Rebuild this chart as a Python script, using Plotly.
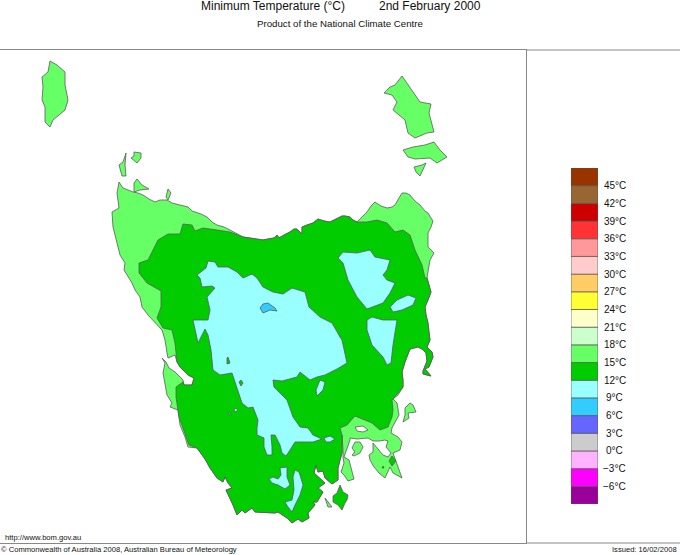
"""Minimum temperature map of Tasmania, 2nd February 2000."""

import plotly.graph_objects as go

WIDTH = 680
HEIGHT = 555

# temperature bands for the colour key
band_low = [-9, -6, -3, 0, 3, 6, 9, 12, 15, 18, 21, 24, 27, 30, 33, 36, 39, 42, 45]
band_colours = [
    "#990099", "#ff00ff", "#ffb3ff", "#cccccc", "#6666ff", "#33ccff", "#99ffff",
    "#00cc00", "#66ff66", "#ccffcc", "#ffffcc", "#ffff33", "#ffcc66", "#ffcccc",
    "#ff9999", "#ff3333", "#cc0000", "#996633", "#993300",
]
key_values = [45, 42, 39, 36, 33, 30, 27, 24, 21, 18, 15, 12, 9, 6, 3, 0, -3, -6]

COLOUR_15 = "#66ff66"
COLOUR_12 = "#00cc00"
COLOUR_9 = "#99ffff"
COLOUR_6 = "#33ccff"

# coast in image grid units, clockwise
coast_nw = [
    (162, 330), (155, 322), (148, 315), (142, 307), (140, 297), (135, 290), (132, 283),
    (124, 270), (125, 263), (120, 255), (118, 247), (115, 237), (113, 227), (112, 212),
    (119, 208), (117, 193), (119, 182), (123, 188), (128, 190), (133, 192), (138, 193),
    (143, 195), (149, 199), (155, 202), (160, 200), (167, 200), (172, 203), (180, 205),
    (188, 207), (192, 211), (195, 212), (201, 214), (207, 217), (212, 222), (217, 225),
    (224, 227), (230, 230), (236, 233), (243, 237),
]
coast_north = [
    (250, 238), (257, 239), (263, 240), (268, 239), (274, 238), (277, 235), (279, 238),
    (284, 235), (290, 232), (294, 229), (297, 229), (302, 234), (302, 227), (307, 225),
    (313, 223), (318, 219), (324, 221), (330, 222), (335, 220), (338, 218), (342, 216),
    (345, 216), (350, 217), (353, 220), (357, 222),
]
coast_ne = [
    (362, 217), (367, 212), (371, 206), (375, 202), (381, 206), (387, 208), (392, 207),
    (395, 205), (399, 198), (402, 193), (406, 193), (410, 195), (415, 201), (420, 205),
    (425, 211), (428, 213), (431, 218), (433, 221), (431, 227), (428, 233), (428, 240),
    (428, 247), (431, 250), (434, 253), (430, 260), (428, 270), (427, 278),
]
coast_east = [
    (429, 285), (431, 292), (428, 300), (425, 307), (426, 315), (428, 323), (429, 332),
    (430, 340), (427, 347), (432, 352), (433, 357), (429, 367), (425, 369), (431, 376),
    (423, 374), (423, 371), (427, 361), (426, 353), (422, 349), (418, 347), (410, 349),
    (405, 362), (402, 372), (403, 380), (403, 387),
]
coast_se = [
    (398, 395), (393, 399), (397, 403), (399, 415), (395, 423), (392, 428), (391, 433),
    (398, 437), (402, 442), (400, 450), (393, 453), (398, 467), (402, 478), (393, 473),
    (390, 467), (385, 478), (379, 473), (374, 467), (370, 460), (369, 455), (373, 452),
    (373, 443), (378, 449), (383, 455), (388, 457), (391, 453), (386, 447), (388, 441),
    (385, 440), (380, 441), (373, 441), (368, 438), (357, 439), (350, 438), (350, 440),
    (347, 448), (344, 457), (349, 460), (351, 468), (354, 479), (348, 481), (344, 475),
    (341, 472), (344, 463), (343, 458), (343, 450), (342, 435),
]
coast_south = [
    (342, 453), (340, 460), (338, 468), (338, 480), (332, 484), (325, 478), (323, 471),
    (318, 472), (316, 465), (314, 473), (325, 483), (318, 488), (323, 492), (317, 502),
    (313, 502), (315, 505), (308, 513), (309, 518), (302, 522), (298, 519), (292, 523),
    (287, 518), (278, 512), (275, 513), (263, 512), (255, 512), (252, 508), (245, 513),
    (242, 510), (237, 515), (233, 505), (226, 490), (232, 488), (228, 483), (225, 477),
    (223, 482), (217, 478), (210, 468), (205, 459), (197, 448),
]
coast_sw = [
    (188, 447), (185, 437), (180, 425), (178, 410), (170, 407), (172, 403), (167, 395),
    (163, 373), (165, 363), (162, 358), (166, 362), (169, 368), (175, 372), (183, 380),
    (184, 385), (192, 385), (194, 378), (188, 375), (180, 367), (177, 362), (175, 355),
    (168, 358), (167, 353), (165, 340),
]

# edges of the 12-15 degree area where it leaves the coast
green_ne = [
    (367, 222), (377, 220), (387, 223), (395, 232), (403, 230), (410, 235), (415, 250),
    (422, 265), (425, 278),
]
green_se = [
    (392, 400), (393, 410), (392, 417), (388, 427), (380, 430), (372, 423), (355, 416),
    (347, 425), (340, 428),
]
green_sw = [
    (189, 445), (185, 433), (179, 417), (176, 397), (176, 387), (183, 382), (184, 385),
    (192, 385), (194, 378), (188, 375), (180, 367), (177, 362), (176, 355),
]
green_nw = [
    (175, 343), (172, 330), (163, 328), (157, 318), (161, 307), (161, 291), (147, 283),
    (139, 273), (139, 263), (148, 260), (158, 240), (168, 234), (180, 234), (183, 224),
    (192, 225), (195, 231), (203, 228), (217, 230), (230, 232),
]

# islands, 15-18 degree colour
king_island = [
    (50, 61), (57, 65), (65, 72), (65, 85), (68, 100), (65, 110), (53, 120), (50, 127),
    (45, 122), (45, 107), (42, 100), (43, 87), (42, 77), (48, 72),
]
hunter_island = [(126, 153), (125, 165), (126, 176), (122, 176), (119, 165), (123, 162)]
three_hummock = [(134, 152), (141, 153), (141, 158), (137, 163), (131, 158), (134, 156)]
robbins_island = [(137, 179), (142, 185), (149, 189), (140, 190), (134, 192), (134, 183)]
perkins_island = [(168, 189), (171, 193), (168, 200), (166, 197)]
flinders_island = [
    (402, 76), (410, 87), (420, 102), (431, 104), (429, 113), (434, 132), (427, 133),
    (415, 138), (408, 133), (405, 120), (393, 110), (397, 102), (392, 95), (384, 93),
    (390, 87), (395, 85),
]
cape_barren = [
    (403, 150), (413, 147), (425, 145), (434, 142), (440, 150), (447, 157), (437, 163),
    (430, 158), (415, 159), (408, 157),
]
clarke_island = [(414, 167), (422, 165), (426, 163), (423, 170), (420, 176), (416, 172)]
maria_island = [
    (410, 403), (413, 405), (416, 412), (408, 413), (409, 418), (403, 422), (405, 415),
    (405, 408),
]
sorell_point = [
    (355, 442), (360, 442), (363, 447), (360, 453), (354, 456), (352, 455), (355, 452),
    (352, 448),
]
bruny_south = [(325, 498), (332, 507), (328, 507)]
east_dot = [(339, 419), (340, 422), (338, 423), (338, 420)]
sorell_lagoon = [(355, 427), (363, 426), (368, 430), (363, 432), (357, 431)]

# islands and ponds, 12-15 degree colour
bruny_island = [
    (340, 485), (343, 492), (348, 495), (347, 500), (345, 503), (342, 510), (338, 505),
    (333, 502), (333, 496), (337, 493),
]
forestier_pond = [(392, 456), (396, 461), (392, 466), (389, 461)]
forestier_dot = [(383, 466), (384, 468), (382, 468)]

# 9-12 degree colour
cool_main = [
    (197, 275), (206, 268), (208, 261), (215, 262), (218, 267), (228, 267), (237, 272),
    (243, 278), (252, 274), (257, 278), (263, 287), (273, 292), (283, 294), (292, 288),
    (305, 292), (309, 307), (320, 317), (332, 323), (340, 337), (342, 340), (347, 363),
    (337, 369), (325, 375), (317, 377), (310, 380), (300, 372), (297, 377), (282, 381),
    (273, 380), (274, 387), (287, 400), (293, 417), (300, 427), (308, 428), (313, 435),
    (322, 439), (313, 442), (295, 442), (290, 450), (286, 456), (282, 453), (280, 445),
    (275, 435), (271, 435), (272, 447), (272, 455), (267, 455), (264, 447), (264, 438),
    (257, 435), (257, 428), (258, 420), (253, 407), (248, 408), (242, 403), (238, 390),
    (232, 373), (220, 375), (213, 370), (211, 350), (208, 335), (205, 329),
    (198, 343), (193, 320), (208, 320), (210, 310), (207, 297), (215, 288), (212, 286),
    (202, 287), (200, 278),
]
cool_ne = [
    (338, 258), (343, 252), (357, 253), (370, 250), (375, 257), (390, 260), (387, 270),
    (383, 275), (387, 280), (395, 283), (390, 293), (383, 303), (367, 309), (357, 297),
    (348, 280), (343, 263),
]
cool_oval = [(390, 307), (397, 300), (408, 295), (416, 298), (413, 305), (402, 310), (393, 312)]
cool_east = [
    (367, 320), (372, 317), (383, 320), (397, 320), (393, 345), (391, 363), (387, 365),
    (383, 357), (372, 345), (367, 330),
]
cool_small_1 = [(320, 380), (325, 382), (323, 390), (317, 396), (316, 390)]
cool_small_2 = [(324, 438), (330, 436), (335, 439), (330, 442), (326, 442)]
cool_small_3 = [(236, 408), (238, 410), (235, 412), (234, 410)]
cool_small_4 = [(229, 412), (231, 414), (229, 415)]
cool_south_1 = [
    (280, 468), (287, 467), (287, 477), (290, 485), (285, 489), (278, 485), (272, 483),
    (269, 479), (273, 477), (278, 479), (281, 475),
]
cool_south_2 = [
    (295, 470), (299, 472), (303, 485), (300, 495), (295, 505), (292, 512), (288, 507),
    (285, 502), (292, 500), (294, 490), (293, 477),
]

# warmer holes inside the cool area
green_hole_1 = [(228, 357), (230, 363), (227, 364), (227, 358)]
green_hole_2 = [(241, 380), (243, 383), (241, 386), (239, 382)]

# 6-9 degree colour
cold_patch = [(260, 308), (263, 304), (268, 303), (275, 308), (277, 311), (270, 310), (263, 313)]


def add_area(fig, points, colour, line="#5a5a5a"):
    """Draw one filled outline on the map axes."""
    xs = [p[0] for p in points] + [points[0][0]]
    ys = [p[1] for p in points] + [points[0][1]]
    fig.add_trace(
        go.Scatter(
            x=xs,
            y=ys,
            mode="lines",
            fill="toself",
            fillcolor=colour,
            line=dict(color=line, width=0.8),
            hoverinfo="skip",
            showlegend=False,
            xaxis="x",
            yaxis="y",
        )
    )


def add_text(fig, text, x, y, size, anchor="left"):
    """Place a caption using image positions."""
    fig.add_annotation(
        text=text,
        x=x / WIDTH,
        y=1 - y / HEIGHT,
        xref="paper",
        yref="paper",
        xanchor=anchor,
        yanchor="middle",
        showarrow=False,
        borderpad=0,
        font=dict(size=size, color="#111111"),
    )


land = coast_nw + coast_north + coast_ne + coast_east + coast_se + coast_south + coast_sw
green_area = (
    coast_north[-1:] + green_ne + coast_ne[-1:] + coast_east + green_se + coast_se[-1:]
    + coast_south + green_sw + green_nw + coast_nw[-1:] + coast_north
)

fig = go.Figure()

add_area(fig, land, COLOUR_15)
for island in [
    king_island, hunter_island, three_hummock, robbins_island, perkins_island,
    flinders_island, cape_barren, clarke_island, maria_island, sorell_point, bruny_south,
    east_dot,
]:
    add_area(fig, island, COLOUR_15)
add_area(fig, sorell_lagoon, "#ffffff")
add_area(fig, green_area, COLOUR_12)
for island in [bruny_island, forestier_pond, forestier_dot]:
    add_area(fig, island, COLOUR_12)
for patch in [
    cool_main, cool_ne, cool_oval, cool_east, cool_small_1, cool_small_2, cool_small_3,
    cool_small_4, cool_south_1, cool_south_2,
]:
    add_area(fig, patch, COLOUR_9)
for hole in [green_hole_1, green_hole_2]:
    add_area(fig, hole, COLOUR_12)
add_area(fig, cold_patch, COLOUR_6)

# colour key, one stacked bar per band
for low, colour in zip(band_low, band_colours):
    fig.add_trace(
        go.Bar(
            x=[0],
            y=[3],
            base=low,
            width=1,
            marker=dict(color=colour, line=dict(color="#555555", width=0.7)),
            hoverinfo="skip",
            showlegend=False,
            xaxis="x2",
            yaxis="y2",
        )
    )
for value in key_values:
    fig.add_annotation(
        text=f"{value}°C".replace("-", "−"),
        x=614.7 / WIDTH,
        y=value,
        xref="paper",
        yref="y2",
        xanchor="center",
        yanchor="middle",
        showarrow=False,
        font=dict(size=10, color="#111111"),
    )

add_text(fig, "Minimum Temperature (°C)", 200, 6, 12)
add_text(fig, "2nd February 2000", 378, 6, 12)
add_text(fig, "Product of the National Climate Centre", 256, 23, 9.7)
add_text(fig, "http://www.bom.gov.au", 4, 537, 7.6)
add_text(fig, "© Commonwealth of Australia 2008, Australian Bureau of Meteorology", 0, 549, 7.6)
add_text(fig, "Issued: 16/02/2008", 678, 549, 7.6, anchor="right")

# the right panel is open at the page edge
for y in [50, 543]:
    fig.add_shape(
        type="line",
        xref="paper",
        yref="paper",
        x0=526 / WIDTH,
        x1=1,
        y0=1 - y / HEIGHT,
        y1=1 - y / HEIGHT,
        line=dict(color="#888888", width=1),
    )

frame_axis = dict(
    showgrid=False,
    zeroline=False,
    showticklabels=False,
    ticks="",
    showline=True,
    mirror=True,
    linecolor="#888888",
    linewidth=1,
)
key_axis = dict(
    showgrid=False,
    zeroline=False,
    showticklabels=False,
    ticks="",
    showline=False,
)

fig.update_layout(
    width=WIDTH,
    height=HEIGHT,
    autosize=False,
    margin=dict(l=0, r=0, t=0, b=0),
    paper_bgcolor="#ffffff",
    plot_bgcolor="#ffffff",
    font=dict(family="Liberation Sans"),
    barmode="overlay",
    xaxis=dict(frame_axis, range=[0, 526], domain=[0, 526 / WIDTH]),
    yaxis=dict(frame_axis, range=[543, 50], domain=[1 - 543 / HEIGHT, 1 - 50 / HEIGHT]),
    xaxis2=dict(key_axis, range=[-0.5, 0.5], domain=[571 / WIDTH, 598 / WIDTH], anchor="y2"),
    yaxis2=dict(
        key_axis,
        range=[-9, 48],
        domain=[1 - 504 / HEIGHT, 1 - 168 / HEIGHT],
        anchor="x2",
    ),
)

# page margin off so the figure fills the window
fig.write_html(
    "out.html",
    config={"displayModeBar": False},
    post_script="document.body.style.margin = '0';",
)
